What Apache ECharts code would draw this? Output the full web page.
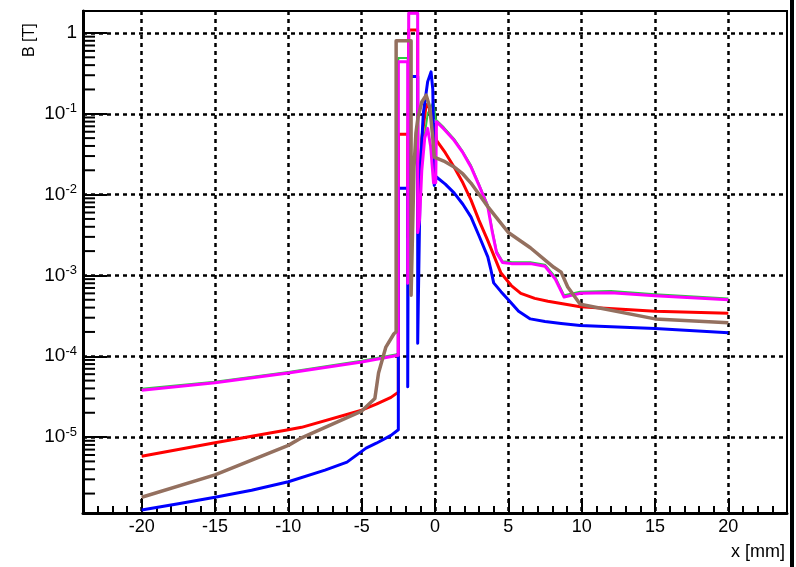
<!DOCTYPE html>
<html>
<head>
<meta charset="utf-8">
<script src="https://cdn.jsdelivr.net/npm/echarts@6/dist/echarts.min.js"></script>
<style>
html,body{margin:0;padding:0;background:#fff;}
#chart{width:796px;height:567px;}
</style>
</head>
<body>
<div id="chart"></div>
<script>
// ---- axis ranges / tick labels ----
const X_MIN = -24, X_MAX = 24;
const Y_MIN = 1.15e-6, Y_MAX = 1.87;
const xTickLabels = [-20, -15, -10, -5, 0, 5, 10, 15, 20];
const yDecades = [1e-6, 1e-5, 1e-4, 1e-3, 1e-2, 1e-1, 1];
const yMinorMultipliers = [2, 3, 4, 5, 6, 7, 8, 9];

// ---- series values ----
const greenX = [-20, -15, -10, -5, -2.5, -2.5, -1.86, -1.86, -1.79, -1.79, -1.18, -1.18, -1.0, -0.9, -0.5, -0.1, 0.05, 0.6, 1.3, 1.9, 2.45, 3.0, 3.6, 3.9, 4.2, 4.6, 5.2, 6.5, 7.5, 8.2, 8.8, 9.9, 12, 15, 20];
const greenY = [3.95e-5, 4.85e-5, 6.4e-5, 8.8e-5, 1.07e-4, 0.49, 0.49, 8e-4, 8e-4, 1.75, 1.75, 3.4e-3, 0.01, 0.03, 0.1, 0.14, 0.085, 0.068, 0.049, 0.034, 0.023, 0.0135, 0.0074, 0.0037, 0.002, 0.0015, 0.00147, 0.00146, 0.00136, 0.00096, 5.7e-4, 6.3e-4, 6.4e-4, 5.85e-4, 5.2e-4];

const redX = [-20, -15, -10, -9.1, -5, -4, -3, -2.5, -2.5, -1.86, -1.86, -1.79, -1.79, -1.18, -1.18, -1.05, -0.9, -0.6, -0.4, -0.15, 0.05, 0.1, 0.7, 1.3, 1.9, 2.45, 3.0, 3.6, 4.5, 5.2, 5.85, 6.8, 7.7, 8.6, 9.9, 15, 20];
const redY = [5.8e-6, 8.5e-6, 1.23e-5, 1.32e-5, 2.15e-5, 2.55e-5, 3.1e-5, 3.6e-5, 0.056, 0.056, 3e-3, 3e-3, 1.09, 1.09, 3.5e-3, 0.01, 0.05, 0.13, 0.12, 0.07, 0.058, 0.047, 0.033, 0.022, 0.014, 0.0086, 0.0048, 0.0027, 0.00107, 7.5e-4, 6.0e-4, 5.2e-4, 4.8e-4, 4.5e-4, 4.1e-4, 3.6e-4, 3.4e-4];

const blueX = [-20, -17.5, -15, -12.5, -10, -7.5, -6, -4.7, -4, -3, -2.5, -2.5, -1.86, -1.86, -1.79, -1.79, -1.18, -1.18, -1.1, -1.0, -0.8, -0.5, -0.27, -0.15, -0.05, 0.1, 0.7, 1.3, 1.9, 2.45, 3.0, 3.6, 3.8, 4.0, 4.5, 5.0, 5.7, 6.5, 7.5, 8.6, 9.9, 15, 20];
const blueY = [1.25e-6, 1.5e-6, 1.8e-6, 2.2e-6, 2.8e-6, 3.9e-6, 4.9e-6, 7.3e-6, 8.4e-6, 1.05e-5, 1.23e-5, 0.012, 0.012, 4.2e-5, 4.2e-5, 0.29, 0.29, 1.45e-4, 1.45e-4, 0.02, 0.1, 0.25, 0.33, 0.2, 0.013, 0.0165, 0.0135, 0.0105, 0.0076, 0.0053, 0.0031, 0.0017, 0.0012, 8.1e-4, 6.3e-4, 5.0e-4, 3.6e-4, 2.9e-4, 2.7e-4, 2.55e-4, 2.4e-4, 2.2e-4, 1.95e-4];

const magentaX = [-20, -15, -10, -5, -2.5, -2.5, -1.86, -1.86, -1.79, -1.79, -1.18, -1.18, -1.05, -0.9, -0.7, -0.5, -0.3, -0.1, 0.05, 0.1, 0.6, 1.3, 1.9, 2.45, 3.0, 3.6, 3.9, 4.2, 4.6, 5.2, 6.5, 7.5, 8.2, 8.8, 9.9, 12, 15, 20];
const magentaY = [3.8e-5, 4.7e-5, 6.2e-5, 8.5e-5, 1.03e-4, 0.44, 0.44, 8e-4, 8e-4, 1.75, 1.75, 3.4e-3, 5e-3, 0.02, 0.05, 0.066, 0.04, 0.014, 0.014, 0.08, 0.065, 0.047, 0.033, 0.022, 0.013, 0.0071, 0.0035, 0.0019, 0.00145, 0.0014, 0.0014, 0.0013, 0.0009, 5.4e-4, 6.0e-4, 6.1e-4, 5.6e-4, 5.0e-4];

const brownX = [-20, -15, -10, -9.1, -5, -4.1, -3.85, -3.35, -2.8, -2.65, -2.65, -1.63, -1.63, -1.6, -1.5, -1.43, -1.3, -1.16, -0.9, -0.6, -0.35, -0.15, -0.05, 0.6, 1.3, 1.9, 2.45, 3.0, 3.6, 4.3, 5.0, 6.5, 8.1, 8.6, 9.05, 9.9, 15, 20];
const brownY = [1.8e-6, 3.4e-6, 7.9e-6, 9.8e-6, 2.1e-5, 3.0e-5, 6.2e-5, 1.3e-4, 1.9e-4, 2.0e-4, 0.8, 0.8, 5.7e-4, 5.7e-4, 0.006, 0.022, 0.058, 0.09, 0.14, 0.17, 0.12, 0.05, 0.029, 0.026, 0.022, 0.018, 0.0139, 0.0101, 0.0071, 0.0049, 0.0034, 0.0022, 0.00126, 0.0011, 7.2e-4, 4.4e-4, 2.9e-4, 2.6e-4];

function pairs(xs, ys) { return xs.map((x, i) => [x, ys[i]]); }

const yMinorTicks = [];
yDecades.forEach(d => yMinorMultipliers.forEach(m => {
  const v = d * m;
  if (v > Y_MIN && v < Y_MAX) yMinorTicks.push([X_MIN, v]);
}));

const FONT = '"Liberation Sans", Arial, sans-serif';

function lineSeries(name, xs, ys, color, width) {
  return {
    name: name, type: 'line', data: pairs(xs, ys),
    symbol: 'none', smooth: false, clip: true,
    lineStyle: { color: color, width: width, join: 'round' },
    z: 3
  };
}

const chart = echarts.init(document.getElementById('chart'), null, { renderer: 'canvas' });
chart.setOption({
  animation: false,
  backgroundColor: '#ffffff',
  grid: { left: 83, right: 9, top: 11, bottom: 54, show: true, borderColor: '#000', borderWidth: 2, backgroundColor: 'transparent' },
  xAxis: {
    type: 'value', min: X_MIN, max: X_MAX, minInterval: 5, maxInterval: 5,
    axisLine: { show: true, onZero: false, lineStyle: { color: '#000', width: 3 } },
    axisTick: { show: true, inside: true, length: 15, lineStyle: { color: '#000', width: 2 } },
    minorTick: { show: true, splitNumber: 5, length: 7, lineStyle: { color: '#000', width: 2 } },
    axisLabel: {
      show: true, margin: 5, color: '#000', fontSize: 18, fontFamily: FONT,
      showMinLabel: false, showMaxLabel: false,
      formatter: function (v) { return xTickLabels.indexOf(Math.round(v)) >= 0 && Math.abs(v - Math.round(v)) < 1e-6 ? String(Math.round(v)) : ''; }
    },
    splitLine: { show: true, showMinLine: false, showMaxLine: false, lineStyle: { color: '#000', width: 2.5, type: [4, 4] } },
    minorSplitLine: { show: false }
  },
  yAxis: {
    type: 'log', logBase: 10, min: Y_MIN, max: Y_MAX,
    axisLine: { show: true, onZero: false, lineStyle: { color: '#000', width: 3 } },
    axisTick: { show: true, inside: true, length: 24, lineStyle: { color: '#000', width: 2 } },
    axisLabel: {
      show: true, margin: 6, color: '#000', fontFamily: FONT,
      showMinLabel: false, showMaxLabel: false,
      formatter: function (v) {
        const l = Math.log10(v), e = Math.round(l);
        if (Math.abs(l - e) > 1e-6) return '';
        if (e === 0) return '{b|1}';
        return '{b|10}{s|' + e + '}';
      },
      rich: {
        b: { fontSize: 19, fontFamily: FONT, color: '#000' },
        s: { fontSize: 13, fontFamily: FONT, color: '#000', verticalAlign: 'top', padding: [0, 0, 10, 0] }
      }
    },
    splitLine: { show: true, showMinLine: false, showMaxLine: false, lineStyle: { color: '#000', width: 2.5, type: [4, 4] } }
  },
  series: [
    {
      name: 'yMinorTicks', type: 'custom', data: yMinorTicks, clip: false, z: 4, silent: true,
      renderItem: function (params, api) {
        const p = api.coord([api.value(0), api.value(1)]);
        return { type: 'line', shape: { x1: p[0], y1: p[1], x2: p[0] + 12, y2: p[1] }, style: { stroke: '#000', lineWidth: 2 } };
      }
    },
    lineSeries('green', greenX, greenY, '#2ecc40', 2),
    lineSeries('red', redX, redY, '#ff0000', 3),
    lineSeries('blue', blueX, blueY, '#0000ff', 3),
    lineSeries('magenta', magentaX, magentaY, '#ff00ff', 3),
    lineSeries('brown', brownX, brownY, '#94705f', 3.5)
  ],
  graphic: [
    { type: 'text', right: 11, top: 543, style: { text: 'x [mm]', font: '18px ' + FONT, fill: '#000' } },
    { type: 'text', x: 38, y: 57, rotation: Math.PI / 2, style: { text: 'B [T]', font: '16px ' + FONT, fill: '#000', textAlign: 'left', textVerticalAlign: 'bottom' } },
    { type: 'rect', shape: { x: 790, y: 0, width: 4, height: 567 }, style: { fill: '#000' } }
  ]
});
</script>
</body>
</html>
